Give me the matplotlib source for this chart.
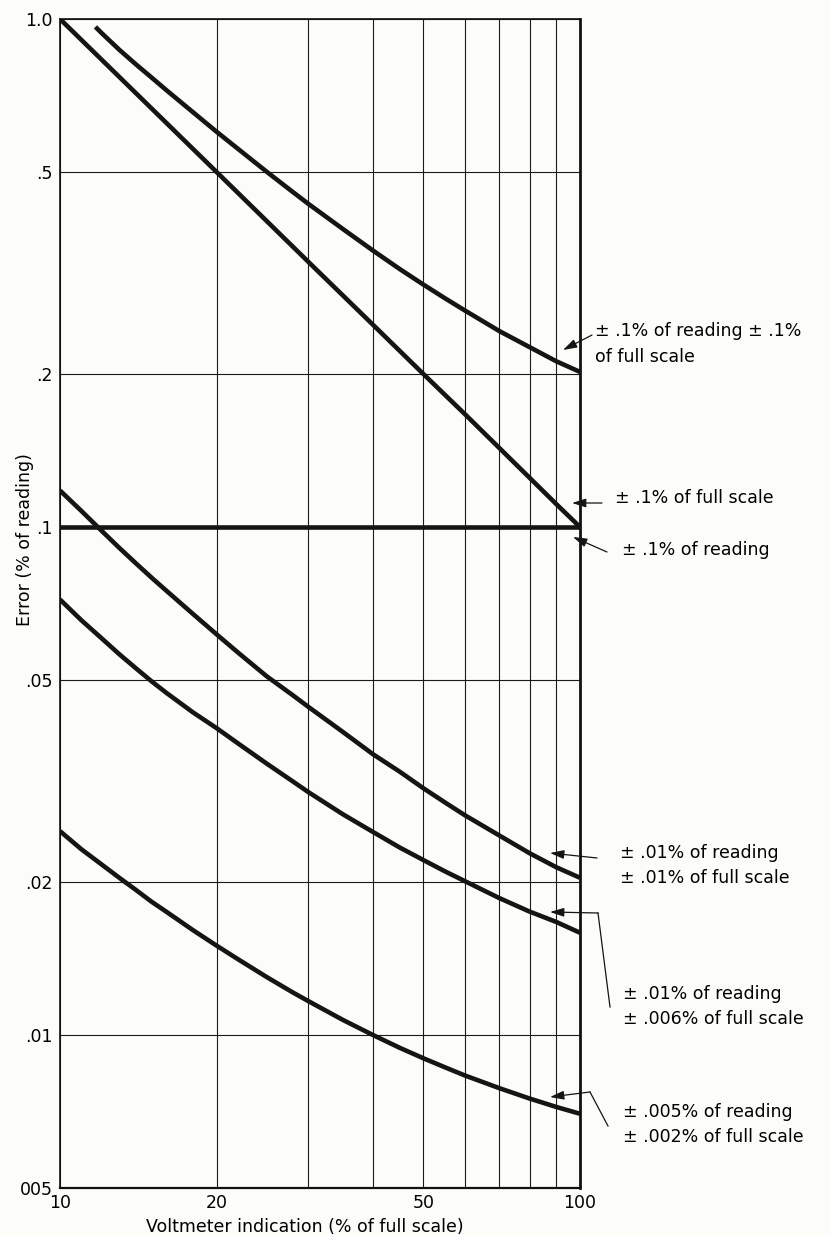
import matplotlib
matplotlib.use("Agg")
import matplotlib.pyplot as plt
from matplotlib.lines import Line2D

# values (x = % of full scale, y = error % of reading)
x_fs = [10, 20, 30, 40, 50, 60, 70, 80, 90, 100]
err_fs = [1.0, 0.5, 0.333, 0.25, 0.2, 0.167, 0.143, 0.125, 0.111, 0.1]

x_rd_fs = [11.7, 12, 13, 14, 15, 16, 18, 20, 22, 25, 28, 30, 35, 40, 45, 50, 55, 60, 70, 80, 90, 100]
err_rd_fs = [0.965, 0.940, 0.870, 0.814, 0.767, 0.725, 0.656, 0.600, 0.555, 0.500, 0.457, 0.433,
             0.386, 0.350, 0.322, 0.300, 0.282, 0.267, 0.243, 0.226, 0.212, 0.202]

x_rd = [10, 100]
err_rd = [0.1, 0.1]

x_low = [10, 11, 12, 13, 14, 15, 16, 18, 20, 22, 25, 28, 30, 35, 40, 45, 50, 55, 60, 70, 80, 90, 100]
err_01_01 = [0.118, 0.1075, 0.0985, 0.091, 0.0848, 0.0795, 0.075, 0.0675, 0.0615, 0.0566, 0.0508,
             0.0467, 0.0443, 0.0395, 0.0357, 0.0330, 0.0306, 0.0287, 0.0271, 0.0247, 0.0228, 0.0214, 0.0204]
err_01_006 = [0.072, 0.0655, 0.0605, 0.0562, 0.0527, 0.0497, 0.0472, 0.0432, 0.0402, 0.0375, 0.0342,
              0.0316, 0.0301, 0.0272, 0.0251, 0.0234, 0.0221, 0.0210, 0.0201, 0.0186, 0.0175, 0.0167, 0.0159]
err_005_002 = [0.0252, 0.0232, 0.0217, 0.0204, 0.0193, 0.0183, 0.0175, 0.0161, 0.0150, 0.0141, 0.0130,
               0.01214, 0.01167, 0.01071, 0.0100, 0.00944, 0.0090, 0.00864, 0.00833, 0.00786, 0.0075,
               0.00722, 0.0070]

x_grid = [10, 20, 30, 40, 50, 60, 70, 80, 90, 100]
x_labels = ["10", "20", "", "", "50", "", "", "", "", "100"]
y_ticks = [0.005, 0.01, 0.02, 0.05, 0.1, 0.2, 0.5, 1.0]
y_labels = ["005", ".01", ".02", ".05", ".1", ".2", ".5", "1.0"]

W, H = 831, 1235
FS = 12.5
plt.rcParams["font.family"] = ["DejaVu Sans"]

fig = plt.figure(figsize=(W / 100, H / 100), dpi=100)
fig.patch.set_facecolor("#fcfcf8")
ax = fig.add_axes([60 / W, 1 - 1188 / H, 520 / W, 1169 / H])
ax.set_facecolor("#fcfcf8")

ax.set_xscale("log")
ax.set_yscale("log")
ax.set_xlim(10, 100)
ax.set_ylim(0.005, 1.0)
ax.minorticks_off()
ax.set_xticks(x_grid)
ax.set_xticklabels(x_labels, fontsize=FS)
ax.set_yticks(y_ticks)
ax.set_yticklabels(y_labels, fontsize=FS)
ax.tick_params(length=0, pad=5)
ax.tick_params(axis="x", pad=4)
ax.grid(True, color="#1a1a1a", lw=0.8)

for side, w in [("left", 1.2), ("top", 1.2), ("bottom", 1.6), ("right", 2.0)]:
    ax.spines[side].set_linewidth(w)
    ax.spines[side].set_color("#111111")

lw = 3.3
c = "#151515"
for xs, ys in [(x_fs, err_fs), (x_rd_fs, err_rd_fs), (x_rd, err_rd),
               (x_low, err_01_01), (x_low, err_01_006), (x_low, err_005_002)]:
    ax.plot(xs, ys, color=c, lw=lw, solid_capstyle="butt", solid_joinstyle="round")


def fp(px, py):
    return (px / W, 1 - py / H)


fig.text(*fp(305, 1227), "Voltmeter indication (% of full scale)", fontsize=FS,
         ha="center", va="center")
fig.text(*fp(25, 540), "Error (% of reading)", fontsize=FS, rotation=90,
         ha="center", va="center")

# right-hand labels
labels = [
    (595, 331, "± .1% of reading ± .1%"),
    (595, 357, "of full scale"),
    (615, 498, "± .1% of full scale"),
    (622, 550, "± .1% of reading"),
    (620, 853, "± .01% of reading"),
    (620, 878, "± .01% of full scale"),
    (623, 994, "± .01% of reading"),
    (623, 1019, "± .006% of full scale"),
    (623, 1112, "± .005% of reading"),
    (623, 1137, "± .002% of full scale"),
]
for px, py, s in labels:
    fig.text(*fp(px, py), s, fontsize=FS, ha="left", va="center")

arrow = dict(arrowstyle="-|>,head_length=0.7,head_width=0.22", color=c, lw=0.9,
             mutation_scale=12, shrinkA=0, shrinkB=0)
paths = [
    [(592, 335), (563, 350)],
    [(602, 503), (572, 503)],
    [(607, 552), (573, 537)],
    [(597, 858), (550, 853)],
    [(610, 1007), (598, 913), (550, 912)],
    [(608, 1126), (590, 1092), (550, 1097)],
]
for pts in paths:
    for a, b in zip(pts[:-2], pts[1:-1]):
        fig.add_artist(Line2D([fp(*a)[0], fp(*b)[0]], [fp(*a)[1], fp(*b)[1]],
                              transform=fig.transFigure, color=c, lw=0.9))
    ax.annotate("", xy=fp(*pts[-1]), xytext=fp(*pts[-2]),
                xycoords="figure fraction", textcoords="figure fraction",
                arrowprops=arrow, annotation_clip=False)

fig.savefig("out.png", dpi=100, facecolor=fig.get_facecolor())
